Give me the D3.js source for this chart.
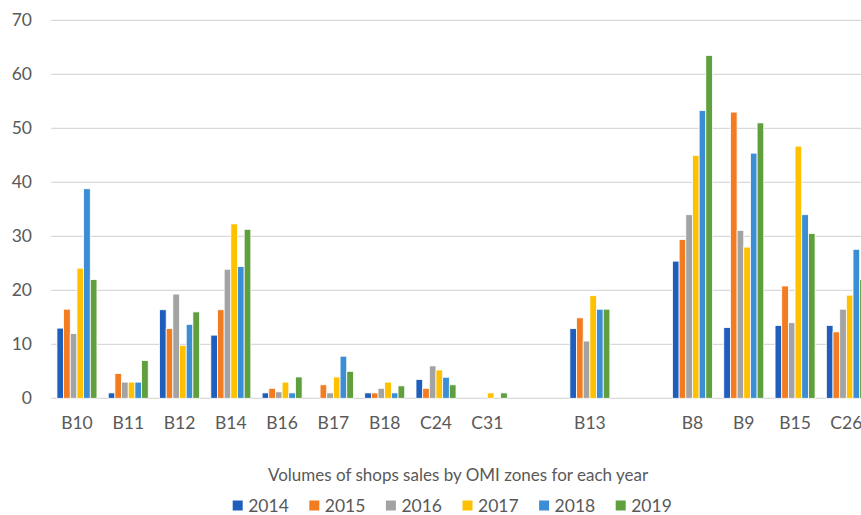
<!DOCTYPE html>
<html>
<head>
<meta charset="utf-8">
<script src="https://cdn.jsdelivr.net/npm/d3@7"></script>
<style>
  html, body { margin: 0; padding: 0; background: #fff; }
  svg { display: block; font-family: Lato, "Open Sans", sans-serif; }
</style>
</head>
<body>
<svg id="chart" width="861" height="515"></svg>
<script>
// OMI zones (empty strings are spacer slots between zone groups)
const zones = ["B10", "B11", "B12", "B14", "B16", "B17", "B18", "C24", "C31", "", "B13", "", "B8", "B9", "B15", "C26"];
const years = ["2014", "2015", "2016", "2017", "2018", "2019"];

// Shop sales volumes per year, one entry per zone slot
const sales2014 = [13, 1, 16.4, 11.7, 1, 0, 1, 3.5, 0, null, 12.9, null, 25.4, 13.1, 13.5, 13.5];
const sales2015 = [16.5, 4.6, 12.9, 16.4, 1.85, 2.5, 1, 1.85, 0, null, 14.9, null, 29.4, 53, 20.8, 12.3];
const sales2016 = [12, 3, 19.3, 23.9, 1.2, 1, 1.85, 6, 0, null, 10.6, null, 34, 31.1, 14, 16.5];
const sales2017 = [24.1, 3, 9.8, 32.3, 3, 3.95, 3, 5.25, 1, null, 19, null, 45, 28, 46.7, 19.1];
const sales2018 = [38.8, 3, 13.7, 24.4, 1, 7.8, 1, 3.9, 0, null, 16.5, null, 53.3, 45.4, 34, 27.6];
const sales2019 = [22, 7, 16, 31.3, 3.95, 5, 2.3, 2.5, 1, null, 16.5, null, 63.5, 51, 30.5, 22];

const seriesValues = [sales2014, sales2015, sales2016, sales2017, sales2018, sales2019];
const colors = ["#1f5ebc", "#f47c20", "#a3a3a3", "#ffc000", "#3b8ed5", "#5f9f3e"];

const yTicks = [0, 10, 20, 30, 40, 50, 60, 70];

const svg = d3.select("#chart");
const plot = { left: 51.3, right: 872, top: 20.3, bottom: 398.3 };

const x = d3.scaleBand()
  .domain(d3.range(zones.length))
  .range([plot.left, plot.right])
  .paddingInner(0.22)
  .paddingOuter(0.11);

const xInner = d3.scaleBand()
  .domain(years)
  .range([0, x.bandwidth()]);

const y = d3.scaleLinear()
  .domain([0, 70])
  .range([plot.bottom, plot.top]);

// Horizontal gridlines
svg.append("g")
  .selectAll("line")
  .data(yTicks)
  .join("line")
  .attr("x1", plot.left)
  .attr("x2", 861)
  .attr("y1", d => y(d))
  .attr("y2", d => y(d))
  .attr("stroke", "#d9d9d9")
  .attr("stroke-width", 1.3);

// Y axis labels
const yAxis = svg.append("g")
  .attr("transform", `translate(32,0)`)
  .call(d3.axisLeft(y).tickValues(yTicks).tickSize(0).tickPadding(0));
yAxis.select(".domain").remove();
yAxis.selectAll("text")
  .attr("fill", "#595959")
  .style("font-size", "17.5px")
  .style("font-family", "Lato, sans-serif");

// Bars
const rows = [];
zones.forEach((z, i) => {
  years.forEach((yr, s) => {
    const v = seriesValues[s][i];
    if (v !== null && v > 0) rows.push({ i, yr, s, v });
  });
});

svg.append("g")
  .selectAll("rect")
  .data(rows)
  .join("rect")
  .attr("x", d => x(d.i) + xInner(d.yr))
  .attr("width", xInner.bandwidth())
  .attr("y", d => y(d.v))
  .attr("height", d => y(0) - y(d.v))
  .attr("fill", d => colors[d.s])
  .attr("stroke", "#fff")
  .attr("stroke-width", 0.8);

// X axis labels
const xAxis = svg.append("g")
  .attr("transform", `translate(0,${plot.bottom})`)
  .call(d3.axisBottom(x).tickFormat(i => zones[i]).tickSize(0).tickPadding(18));
xAxis.select(".domain").remove();
xAxis.selectAll("text")
  .attr("fill", "#595959")
  .style("font-size", "17.5px")
  .style("font-family", "Lato, sans-serif");

// Title below the plot
svg.append("text")
  .attr("x", 458)
  .attr("y", 481)
  .attr("text-anchor", "middle")
  .attr("fill", "#595959")
  .style("font-size", "17px")
  .text("Volumes of shops sales by OMI zones for each year");

// Legend
const legend = svg.append("g")
  .attr("transform", "translate(232.7,500.5)");
const item = legend.selectAll("g")
  .data(years)
  .join("g")
  .attr("transform", (d, k) => `translate(${k * 76.6},0)`);
item.append("rect")
  .attr("width", 10)
  .attr("height", 10)
  .attr("fill", (d, k) => colors[k]);
item.append("text")
  .attr("x", 15.5)
  .attr("y", 11)
  .attr("fill", "#595959")
  .style("font-size", "17.5px")
  .text(d => d);
</script>
</body>
</html>
